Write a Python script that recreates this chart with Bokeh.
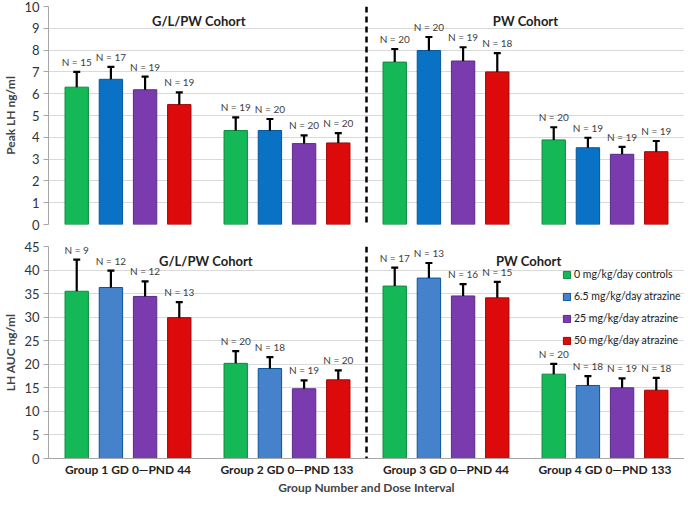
from bokeh.plotting import figure
from bokeh.models import ColumnDataSource, FactorRange, Span, Label, Legend, LegendItem, SingleIntervalTicker
from bokeh.layouts import column
from bokeh.transform import dodge
from bokeh.embed import file_html
from bokeh.resources import INLINE
from bokeh.core.properties import value

groups = ["Group 1 GD 0\u2014PND 44", "Group 2 GD 0\u2014PND 133",
          "Group 3 GD 0\u2014PND 44", "Group 4 GD 0\u2014PND 133"]
doses = ["0 mg/kg/day controls", "6.5 mg/kg/day atrazine",
         "25 mg/kg/day atrazine", "50 mg/kg/day atrazine"]

# Peak LH (ng/ml): means, SEM (upper bar), N
peak_ctrl = [6.30, 4.31, 7.45, 3.88]
peak_ctrl_sem = [0.70, 0.60, 0.60, 0.58]
peak_ctrl_n = [15, 19, 20, 20]
peak_65 = [6.66, 4.31, 7.98, 3.52]
peak_65_sem = [0.57, 0.53, 0.62, 0.46]
peak_65_n = [17, 20, 20, 19]
peak_25 = [6.18, 3.71, 7.50, 3.22]
peak_25_sem = [0.60, 0.38, 0.63, 0.34]
peak_25_n = [19, 20, 19, 19]
peak_50 = [5.50, 3.74, 7.00, 3.34]
peak_50_sem = [0.56, 0.45, 0.86, 0.49]
peak_50_n = [19, 20, 18, 19]

# LH AUC (ng/ml)
auc_ctrl = [35.5, 20.2, 36.6, 17.9]
auc_ctrl_sem = [6.7, 2.6, 3.9, 2.2]
auc_ctrl_n = [9, 20, 17, 20]
auc_65 = [36.3, 19.1, 38.3, 15.5]
auc_65_sem = [3.6, 2.4, 3.2, 2.0]
auc_65_n = [12, 18, 13, 18]
auc_25 = [34.4, 14.8, 34.5, 15.0]
auc_25_sem = [3.2, 1.8, 2.5, 2.0]
auc_25_n = [12, 19, 16, 19]
auc_50 = [29.9, 16.7, 34.1, 14.5]
auc_50_sem = [3.3, 2.0, 3.4, 2.6]
auc_50_n = [13, 20, 15, 18]

cohort_labels = ["G/L/PW Cohort", "PW Cohort"]

FONT = "Lato"
top_colors = ["#14B857", "#0A72C4", "#7A3BAE", "#DC0A0A"]
bot_colors = ["#14B857", "#4682CC", "#7A3BAE", "#DC0A0A"]
line_colors = ["#0E8A40", "#07559A", "#5A2A84", "#A00707"]
offsets = [-0.3225, -0.1075, 0.1075, 0.3225]
BAR_W = 0.147


def make_fig(height, ymax, ystep, ylabel, border_top, border_bottom):
    p = figure(x_range=FactorRange(*groups, range_padding=0), y_range=(0, ymax),
               width=684, height=height, output_backend="svg", toolbar_location=None,
               min_border_left=0, min_border_right=0, min_border_top=border_top,
               min_border_bottom=border_bottom)
    p.outline_line_color = None
    p.xgrid.grid_line_color = None
    p.ygrid.grid_line_color = "#D9D9D9"
    p.yaxis.ticker = SingleIntervalTicker(interval=ystep)
    p.yaxis.axis_label = ylabel
    p.yaxis.axis_label_text_font = FONT
    p.yaxis.axis_label_text_font_style = "bold"
    p.yaxis.axis_label_text_font_size = "12px"
    p.yaxis.axis_label_standoff = 3
    p.yaxis.major_label_text_font = FONT
    p.yaxis.major_label_text_font_size = "13px"
    p.yaxis.major_label_text_color = "#333333"
    p.yaxis.axis_line_color = "#A6A6A6"
    p.yaxis.major_tick_line_color = "#A6A6A6"
    p.yaxis.major_tick_in = 0
    p.yaxis.major_tick_out = 5
    p.yaxis.minor_tick_line_color = None
    p.yaxis.major_label_standoff = 4
    return p


def add_series(p, means, sems, ns, idx, colors, legend_items=None):
    src = ColumnDataSource(dict(
        group=groups, value=means,
        upper=[m + s for m, s in zip(means, sems)],
        label=["N = %d" % n for n in ns]))
    xd = dodge("group", offsets[idx], range=p.x_range)
    r = p.vbar(x=xd, top="value", width=BAR_W, source=src,
               fill_color=colors[idx], line_color=line_colors[idx], line_width=1)
    p.segment(x0=xd, y0="value", x1=xd, y1="upper", source=src,
              line_color="black", line_width=2.2)
    p.scatter(x=xd, y="upper", marker="dash", size=7, line_width=2.2,
              line_color="black", source=src)
    p.text(x=xd, y="upper", text="label", source=src, y_offset=-4,
           text_align="center", text_baseline="bottom",
           text_font=value(FONT), text_font_size="10px", text_color="#404040")
    if legend_items is not None:
        legend_items.append(LegendItem(label=doses[idx], renderers=[r]))


# ---- top panel: Peak LH
p1 = make_fig(236, 10, 1, "Peak LH ng/ml", 6, 12)
p1.xaxis.visible = False
for i, (m, s, n) in enumerate([(peak_ctrl, peak_ctrl_sem, peak_ctrl_n),
                               (peak_65, peak_65_sem, peak_65_n),
                               (peak_25, peak_25_sem, peak_25_n),
                               (peak_50, peak_50_sem, peak_50_n)]):
    add_series(p1, m, s, n, i, top_colors)
p1.add_layout(Span(location=2, dimension="height", line_color="black",
                   line_dash="6 4", line_width=2.5))
for x, t in zip([0.945, 3.0], cohort_labels):
    p1.add_layout(Label(x=x, y=9.33, text=t, text_align="center", text_baseline="middle",
                        text_font=FONT, text_font_style="bold", text_font_size="13px",
                        text_color="#222222"))

# ---- bottom panel: LH AUC
p2 = make_fig(261, 45, 5, "LH AUC ng/ml", 10, 0)
items = []
for i, (m, s, n) in enumerate([(auc_ctrl, auc_ctrl_sem, auc_ctrl_n),
                               (auc_65, auc_65_sem, auc_65_n),
                               (auc_25, auc_25_sem, auc_25_n),
                               (auc_50, auc_50_sem, auc_50_n)]):
    add_series(p2, m, s, n, i, bot_colors, items)
p2.add_layout(Span(location=2, dimension="height", line_color="black",
                   line_dash="6 4", line_width=2.5))
for x, t in zip([0.99, 3.02], cohort_labels):
    p2.add_layout(Label(x=x, y=42.0, text=t, text_align="center", text_baseline="middle",
                        text_font=FONT, text_font_style="bold", text_font_size="13px",
                        text_color="#222222"))
p2.xaxis.axis_label = "Group Number and Dose Interval"
p2.xaxis.axis_label_text_font = FONT
p2.xaxis.axis_label_text_font_style = "bold"
p2.xaxis.axis_label_text_font_size = "12px"
p2.xaxis.axis_label_standoff = 0
p2.xaxis.major_label_text_font = FONT
p2.xaxis.major_label_text_font_style = "bold"
p2.xaxis.major_label_text_font_size = "12px"
p2.xaxis.major_label_text_color = "#222222"
p2.xaxis.major_label_standoff = 3
p2.xaxis.major_tick_in = 0
p2.xaxis.major_tick_out = 0
p2.xaxis.axis_line_color = "#A6A6A6"
p2.xaxis.major_tick_line_color = None
p2.xaxis.minor_tick_line_color = None

legend = Legend(items=items, location=(514, 108), label_text_font=FONT,
                label_text_font_size="10.5px", label_text_color="#222222",
                glyph_width=9, glyph_height=9, label_height=20, spacing=2,
                padding=0, margin=0, background_fill_alpha=0,
                border_line_color=None, label_standoff=3)
p2.add_layout(legend)

layout = column(p1, p2, spacing=0)
open("out.html", "w").write(file_html(layout, INLINE))
